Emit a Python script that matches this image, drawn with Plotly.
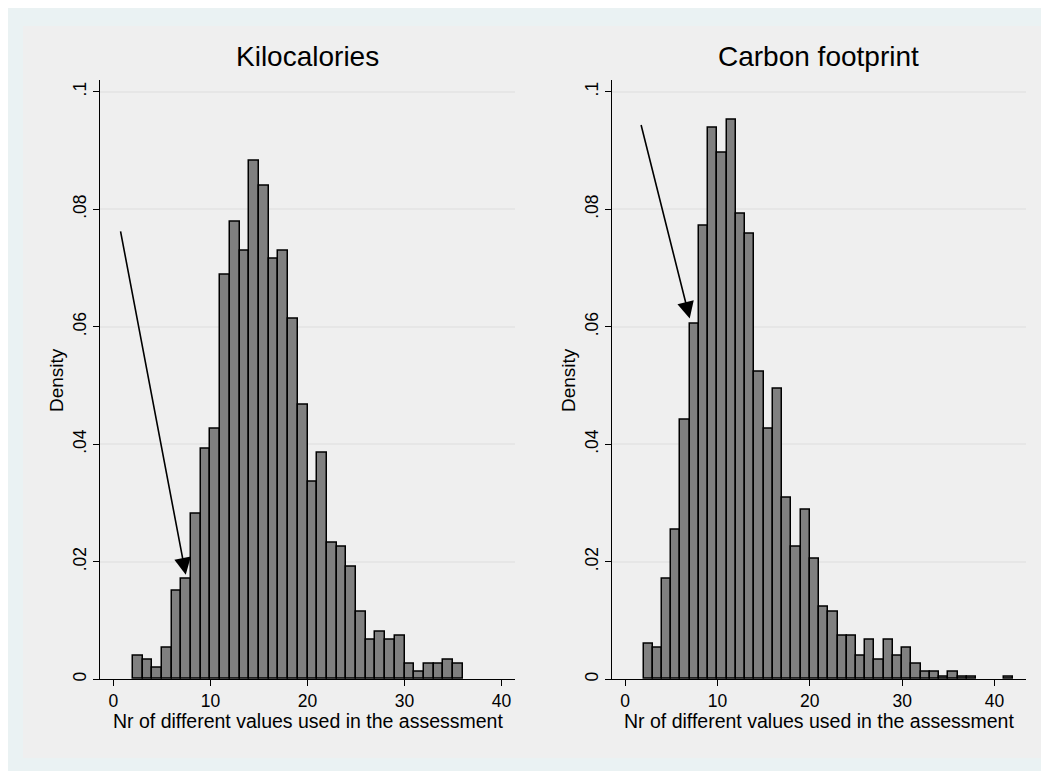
import plotly.graph_objects as go

# ---------------- data ----------------
kcal_bin_start = [2, 3, 4, 5, 6, 7, 8, 9, 10, 11, 12, 13, 14, 15, 16, 17, 18,
                  19, 20, 21, 22, 23, 24, 25, 26, 27, 28, 29, 30, 31, 32, 33, 34, 35]
kcal_density = [0.0040, 0.0033, 0.0019, 0.0054, 0.0150, 0.0171, 0.0281, 0.0392,
                0.0426, 0.0689, 0.0779, 0.0730, 0.0882, 0.0840, 0.0716, 0.0730,
                0.0613, 0.0468, 0.0336, 0.0385, 0.0233, 0.0226, 0.0191, 0.0115,
                0.0067, 0.0081, 0.0067, 0.0074, 0.0026, 0.0012, 0.0026, 0.0026,
                0.0033, 0.0026]

carbon_bin_start = [2, 3, 4, 5, 6, 7, 8, 9, 10, 11, 12, 13, 14, 15, 16, 17, 18,
                    19, 20, 21, 22, 23, 24, 25, 26, 27, 28, 29, 30, 31, 32, 33,
                    34, 35, 36, 37, 41]
carbon_density = [0.0060, 0.0054, 0.0171, 0.0254, 0.0441, 0.0605, 0.0772, 0.0938,
                  0.0896, 0.0952, 0.0792, 0.0758, 0.0523, 0.0426, 0.0495, 0.0309,
                  0.0226, 0.0289, 0.0205, 0.0123, 0.0115, 0.0074, 0.0074, 0.0040,
                  0.0067, 0.0033, 0.0067, 0.0040, 0.0053, 0.0026, 0.0012, 0.0012,
                  0.0005, 0.0012, 0.0005, 0.0005, 0.0005]
bin_width = 1

panel_titles = ["Kilocalories", "Carbon footprint"]
x_title = "Nr of different values used in the assessment"
y_title = "Density"
x_tickvals = [0, 10, 20, 30, 40]
y_tickvals = [0, 0.02, 0.04, 0.06, 0.08, 0.1]
y_ticktext = ["0", ".02", ".04", ".06", ".08", ".1"]

# arrows: (tail_x, tail_y, tip_x, tip_y) in data units
kcal_arrow = (0.7, 0.0765, 7.45, 0.0178)
carbon_arrow = (1.7, 0.0946, 7.0, 0.0614)

# ---------------- figure ----------------
W, H = 1049, 771
OFF = 8  # page body margin: screen px = figure px + OFF
FONT = "Liberation Sans, Arial, Helvetica, sans-serif"
BAR_FILL = "#808080"

fig = go.Figure()

fig.add_trace(go.Bar(
    x=[s + bin_width / 2 for s in kcal_bin_start], y=kcal_density,
    width=bin_width, marker=dict(color=BAR_FILL, line=dict(color="black", width=1.5)),
    xaxis="x", yaxis="y", showlegend=False, hoverinfo="x+y"))
fig.add_trace(go.Bar(
    x=[s + bin_width / 2 for s in carbon_bin_start], y=carbon_density,
    width=bin_width, marker=dict(color=BAR_FILL, line=dict(color="black", width=1.5)),
    xaxis="x2", yaxis="y2", showlegend=False, hoverinfo="x+y"))


def px_x(p):
    return (p - OFF) / W


def px_y(p):
    return 1 - (p - OFF) / H


left_dom = [px_x(100), px_x(515)]
right_dom = [px_x(612), px_x(1026)]
y_dom = [px_y(681), px_y(80)]

common_x = dict(
    tickmode="array", tickvals=x_tickvals, ticks="outside", ticklen=6,
    tickwidth=1.2, tickcolor="black", showline=True, linecolor="black",
    linewidth=1.2, showgrid=False, zeroline=False,
    tickfont=dict(family=FONT, size=17.5, color="black"), fixedrange=True,
)
common_y = dict(
    tickmode="array", tickvals=y_tickvals, ticktext=y_ticktext, ticks="outside",
    ticklen=6, tickwidth=1.2, tickcolor="black", showline=True, linecolor="black",
    linewidth=1.2, showgrid=True, gridcolor="#e6e6e6", gridwidth=1.5,
    zeroline=False, tickangle=-90, range=[0, 0.10204],
    tickfont=dict(family=FONT, size=17.5, color="black"), fixedrange=True,
)

fig.update_layout(
    width=W, height=H,
    margin=dict(l=0, r=0, t=0, b=0),
    paper_bgcolor="#eaf2f3",
    plot_bgcolor="white",
    bargap=0,
    xaxis=dict(domain=left_dom, range=[-1.39, 41.39], anchor="y", **common_x),
    yaxis=dict(domain=y_dom, anchor="x", **common_y),
    xaxis2=dict(domain=right_dom, range=[-1.41, 43.4], anchor="y2", **common_x),
    yaxis2=dict(domain=y_dom, anchor="x2", **common_y),
    shapes=[dict(type="rect", xref="paper", yref="paper",
                 x0=px_x(23), x1=px_x(1046), y0=px_y(760), y1=px_y(26),
                 fillcolor="#efefef", line=dict(width=0), layer="below")],
)

annotations = []
for dom, title in zip([left_dom, right_dom], panel_titles):
    cx = (dom[0] + dom[1]) / 2
    annotations.append(dict(text=title, xref="paper", yref="paper", x=cx, y=px_y(57),
                            xanchor="center", yanchor="middle", showarrow=False,
                            font=dict(family=FONT, size=28, color="black")))
    annotations.append(dict(text=x_title, xref="paper", yref="paper", x=cx, y=px_y(723),
                            xanchor="center", yanchor="middle", showarrow=False,
                            font=dict(family=FONT, size=19.5, color="black")))
for ax_left in [100, 612]:
    annotations.append(dict(text=y_title, xref="paper", yref="paper",
                            x=px_x(ax_left - 44), y=px_y(381), textangle=-90,
                            xanchor="center", yanchor="middle", showarrow=False,
                            font=dict(family=FONT, size=19, color="black")))

for (tx, ty, hx, hy), xr, yr in [(kcal_arrow, "x", "y"), (carbon_arrow, "x2", "y2")]:
    annotations.append(dict(text="", x=hx, y=hy, xref=xr, yref=yr,
                            ax=tx, ay=ty, axref=xr, ayref=yr,
                            showarrow=True, arrowhead=2, arrowsize=2.1,
                            arrowwidth=1.6, arrowcolor="black", standoff=0))

fig.update_layout(annotations=annotations)

fig.write_html("out.html")
